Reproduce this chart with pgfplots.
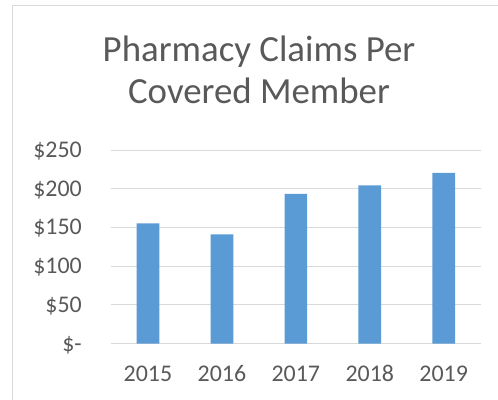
\documentclass[border=0pt]{standalone}
\usepackage{fontspec}
\setmainfont{Carlito}
\usepackage{pgfplots}
\pgfplotsset{compat=1.18}
\definecolor{barblue}{HTML}{5B9BD5}
\definecolor{gridgray}{HTML}{D9D9D9}
\definecolor{txtgray}{HTML}{595959}
\begin{document}
\begin{tikzpicture}[x=1bp,y=1bp]
\begin{axis}[
  at={(111bp,56.3bp)}, anchor=south west,
  scale only axis, width=369.7bp, height=193.7bp,
  ybar, bar width=22.7bp,
  xmin=-0.5, xmax=4.5, ymin=0, ymax=250,
  xtick={0,1,2,3,4},
  xticklabels={2015,2016,2017,2018,2019},
  ytick={0,50,100,150,200,250},
  yticklabels={\$-,\$50,\$100,\$150,\$200,\$250},
  axis line style={draw=none},
  major tick length=0pt,
  ymajorgrids, grid style={gridgray, line width=1bp},
  ticklabel style={font=\fontsize{24}{24}\selectfont, text=txtgray, inner sep=0pt},
  yticklabel style={anchor=base east, xshift=-29bp, yshift=-7.4bp},
  xticklabel style={anchor=base, yshift=-38bp},
  /pgf/number format/assume math mode=true,
  clip=false,
]
\addplot[fill=barblue, draw=none] coordinates {(0,155.4) (1,141.2) (2,193.5) (3,204.4) (4,220.6)};
\end{axis}
\draw[gridgray, line width=1bp] (12bp,-5bp) -- (12bp,394.3bp) -- (510bp,394.3bp);
\node[anchor=base, text=txtgray, font=\fontsize{37}{44}\selectfont, inner sep=0pt] at (259bp,338.3bp) {Pharmacy Claims Per};
\node[anchor=base, text=txtgray, font=\fontsize{37}{44}\selectfont, inner sep=0pt] at (259bp,296.7bp) {Covered Member};
\pgfresetboundingbox
\useasboundingbox (0,0) rectangle (498bp,400bp);
\end{tikzpicture}
\end{document}
